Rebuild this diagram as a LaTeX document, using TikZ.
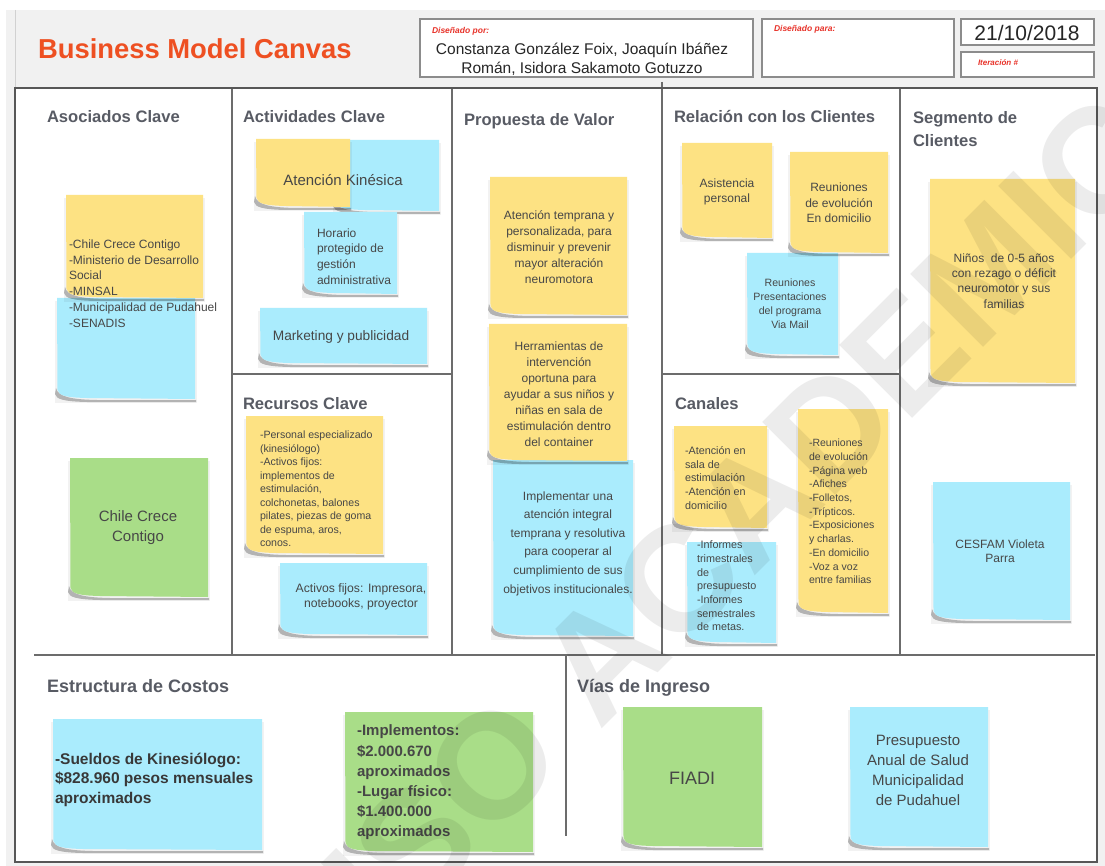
\documentclass[tikz,border=0pt]{standalone}
\usepackage{fontspec}
\setmainfont{Liberation Sans}
\definecolor{noteY}{HTML}{FDE283}
\definecolor{noteB}{HTML}{AAECFD}
\definecolor{noteG}{HTML}{A9DD88}
\definecolor{inkN}{HTML}{474747}
\definecolor{inkH}{HTML}{585B64}
\definecolor{titleOr}{HTML}{EE5022}
\definecolor{labelRed}{HTML}{E8332A}
\definecolor{frameD}{HTML}{575757}
\definecolor{ruleG}{HTML}{6C6C6C}
\definecolor{panelG}{HTML}{F1F1F1}
% sticky note: colour, x1, y1, x2, y2 (with a curled lower-left corner)
\newcommand\postit[5]{%
  \fill[black,opacity=.05] (#2-2,#3+3) rectangle (#4+2,#5+4);
  \fill[black,opacity=.26] (#2-1,#5-11) .. controls (#2+1,#5-2) and (#2+15,#5+0.5) .. (#2+40,#5+1)
     -- (#4+1,#5+1) -- (#4+1,#5+3) -- (#2+30,#5+3)
     .. controls (#2+8,#5+2.5) and (#2-1,#5+0.5) .. (#2-2,#5-5) -- cycle;
  \fill[#1] (#2,#3) -- (#4,#3) -- (#4,#5) -- (#2+30,#5-1)
     .. controls (#2+10,#5-1.5) and (#2+2,#5-3) .. (#2+0.5,#5-9) -- cycle;
}
\newcommand\fsz[2]{\fontsize{#1}{#2}\selectfont}
\begin{document}
\begin{tikzpicture}[x=1pt,y=-1pt,
  every node/.style={inner sep=0pt,outer sep=0pt},
  head/.style={font=\bfseries\fsz{16.6}{23}, text=inkH, anchor=base west},
  headL/.style={font=\bfseries\fsz{18}{22}, text=inkH, anchor=base west},
  txt/.style={text=inkN},
  hdrbox/.style={fill=white, draw=black!45, line width=1.3pt},
  redlabel/.style={font=\bfseries\itshape\fsz{8.5}{10}, text=labelRed, anchor=west},
  rule/.style={draw=ruleG, line width=2pt}
]
\useasboundingbox (0,0) rectangle (1105,866);
\fill[white] (0,0) rectangle (1105,866);
\fill[panelG] (6,10) rectangle (1105,866);
\draw[black!18, line width=1pt] (15.5,10) -- (15.5,88);

% ---------- header ----------
\node[font=\bfseries\fsz{27.4}{30}, text=titleOr, anchor=base west] (title) at (38,59) {Business Model Canvas};
\draw[hdrbox] (420,19) rectangle (753,77);
\draw[hdrbox] (762,19) rectangle (954,77);
\draw[hdrbox] (961,19) rectangle (1094,45);
\draw[hdrbox] (961,52) rectangle (1094,77);
\node[redlabel] (lblpor) at (432,31) {Diseñado por:};
\node[font=\fsz{15.5}{19}, align=center, text=black!85] (authors) at (582,59.5)
  {Constanza González Foix, Joaquín Ibáñez\\Román, Isidora Sakamoto Gotuzzo};
\node[redlabel] (lblpara) at (774,29) {Diseñado para:};
\node[font=\fsz{21}{24}, text=black!85] (date) at (1027,33) {21/10/2018};
\node[redlabel, font=\bfseries\itshape\fsz{8}{10}] (lbliter) at (978,63) {Iteración \#};

% ---------- canvas frame and cells ----------
\fill[white] (15,88) rectangle (1097,862);
\draw[rule] (232,88) -- (232,655);
\draw[rule] (452,88) -- (452,655);
\draw[rule] (662,82) -- (662,655);
\draw[rule] (900,88) -- (900,655);
\draw[rule] (232,374) -- (452,374);
\draw[rule] (662,374) -- (900,374);
\draw[rule] (34,655) -- (1095,655);
\draw[rule] (566,655) -- (566,836);
\draw[draw=frameD, line width=2.6pt] (15,88) rectangle (1097,862);

% ---------- headings ----------
\node[head] (hAso) at (47,123) {Asociados Clave};
\node[head] (hAct) at (243,123) {Actividades Clave};
\node[head] (hPro) at (464,126) {Propuesta de Valor};
\node[head] (hRel) at (674,123) {Relación con los Clientes};
\node[head, anchor=north west, align=left] (hSeg) at (913,111) {Segmento de\\Clientes};
\node[head] (hRec) at (243,409) {Recursos Clave};
\node[head] (hCan) at (675,409) {Canales};
\node[headL] (hCos) at (47,692) {Estructura de Costos};
\node[headL] (hVia) at (577,692) {Vías de Ingreso};

% ---------- Asociados Clave ----------
\postit{noteB}{57}{298}{195}{399}
\postit{noteY}{66}{195}{203}{298}
\postit{noteG}{70}{458}{208}{597}
\node[txt, font=\fsz{12}{15.8}, align=left, anchor=west] (tAso) at (69,283.5)
  {-Chile Crece Contigo\\-Ministerio de Desarrollo\\Social\\-MINSAL\\-Municipalidad de Pudahuel\\-SENADIS};
\node[txt, font=\fsz{15}{20}, align=center] (tChile) at (138,528) {Chile Crece\\Contigo};

% ---------- Actividades Clave ----------
\postit{noteB}{335}{140}{439}{211}
\postit{noteY}{256}{139}{350}{207}
\postit{noteB}{304}{212}{397}{294}
\postit{noteB}{260}{308}{427}{364}
\node[txt, font=\fsz{15}{18}] (tKine) at (343,180) {Atención Kinésica};
\node[txt, font=\fsz{12}{15.8}, align=left, anchor=west] (tHor) at (317,256.5)
  {Horario\\protegido de\\gestión\\administrativa};
\node[txt, font=\fsz{13.7}{16}] (tMkt) at (341,337) {Marketing y publicidad};

% ---------- Recursos Clave ----------
\postit{noteY}{246}{416}{383}{554}
\postit{noteB}{280}{563}{427}{635}
\node[txt, font=\fsz{10.6}{13.5}, align=left, anchor=west] (tRec) at (260,489)
  {-Personal especializado\\(kinesiólogo)\\-Activos fijos:\\implementos de\\estimulación,\\colchonetas, balones\\pilates, piezas de goma\\de espuma, aros,\\conos.};
\node[txt, font=\fsz{12.2}{15}, align=center] (tAct) at (361,596.5)
  {Activos fijos: Impresora,\\notebooks, proyector};

% ---------- Propuesta de Valor ----------
\postit{noteB}{493}{460}{633}{636}
\postit{noteY}{490}{177}{627}{315}
\postit{noteY}{489}{324}{627}{461}
\node[txt, font=\fsz{12}{16}, align=center] (tPv1) at (559,247)
  {Atención temprana y\\personalizada, para\\disminuir y prevenir\\mayor alteración\\neuromotora};
\node[txt, font=\fsz{12}{16}, align=center] (tPv2) at (559,394)
  {Herramientas de\\intervención\\oportuna para\\ayudar a sus niños y\\niñas en sala de\\estimulación dentro\\del container};
\node[txt, font=\fsz{12}{18.6}, align=center] (tPv3) at (568,543.5)
  {Implementar una\\atención integral\\temprana y resolutiva\\para cooperar al\\cumplimiento de sus\\objetivos institucionales.};

% ---------- Relación con los Clientes ----------
\postit{noteB}{747}{253}{838}{355}
\postit{noteY}{682}{143}{772}{238}
\postit{noteY}{790}{152}{888}{253}
\node[txt, font=\fsz{12}{15}, align=center] (tAsis) at (727,191.5) {Asistencia\\personal};
\node[txt, font=\fsz{12}{15.3}, align=center] (tReu) at (839,203) {Reuniones\\de evolución\\En domicilio};
\node[txt, font=\fsz{10.6}{14}, align=center] (tMail) at (790,304)
  {Reuniones\\Presentaciones\\del programa\\Via Mail};

% ---------- Canales ----------
\postit{noteY}{674}{426}{767}{528}
\postit{noteB}{687}{542}{776}{643}
\postit{noteY}{798}{409}{888}{613}
\node[txt, font=\fsz{10.8}{13.6}, align=left, anchor=west] (tCan1) at (685,478)
  {-Atención en\\sala de\\estimulación\\-Atención en\\domicilio};
\node[txt, font=\fsz{10.8}{13.7}, align=left, anchor=west] (tCan2) at (697,586)
  {-Informes\\trimestrales\\de\\presupuesto\\-Informes\\semestrales\\de metas.};
\node[txt, font=\fsz{10.5}{13.7}, align=left, anchor=west] (tCan3) at (809,511.5)
  {-Reuniones\\de evolución\\-Página web\\-Afiches\\-Folletos,\\-Trípticos.\\-Exposiciones\\y charlas.\\-En domicilio\\-Voz a voz\\entre familias};

% ---------- Segmento de Clientes ----------
\postit{noteY}{930}{179}{1075}{383}
\postit{noteB}{933}{482}{1070}{620}
\node[txt, font=\fsz{12}{15.3}, align=center] (tNin) at (1004,281)
  {Niños\ \ de 0-5 años\\con rezago o déficit\\neuromotor y sus\\familias};
\node[txt, font=\fsz{12}{14}, align=center] (tCes) at (1000,551) {CESFAM Violeta\\Parra};

% ---------- Estructura de Costos ----------
\postit{noteB}{53}{719}{262}{850}
\postit{noteG}{345}{712}{533}{852}
\node[txt, font=\bfseries\fsz{15.5}{19.5}, align=left, anchor=west, text=black!78] (tSue) at (55,779.5)
  {-Sueldos de Kinesiólogo:\\\$828.960 pesos mensuales\\aproximados};
\node[txt, font=\bfseries\fsz{15}{20.2}, align=left, anchor=west, text=black!72] (tImp) at (357,782.5)
  {-Implementos:\\\$2.000.670\\aproximados\\-Lugar físico:\\\$1.400.000\\aproximados};

% ---------- Vías de Ingreso ----------
\postit{noteG}{623}{707}{762}{847}
\postit{noteB}{850}{707}{988}{847}
\node[txt, font=\fsz{18}{20}] (tFia) at (692,778) {FIADI};
\node[txt, font=\fsz{15}{20}, align=center] (tPre) at (918,770)
  {Presupuesto\\Anual de Salud\\Municipalidad\\de Pudahuel};

% ---------- watermark ----------
\node[rotate=45, font=\bfseries\fsz{150}{150}, text=black, text opacity=.075] (wm) at (760,498) {USO ACADEMICO};
\end{tikzpicture}
\end{document}
